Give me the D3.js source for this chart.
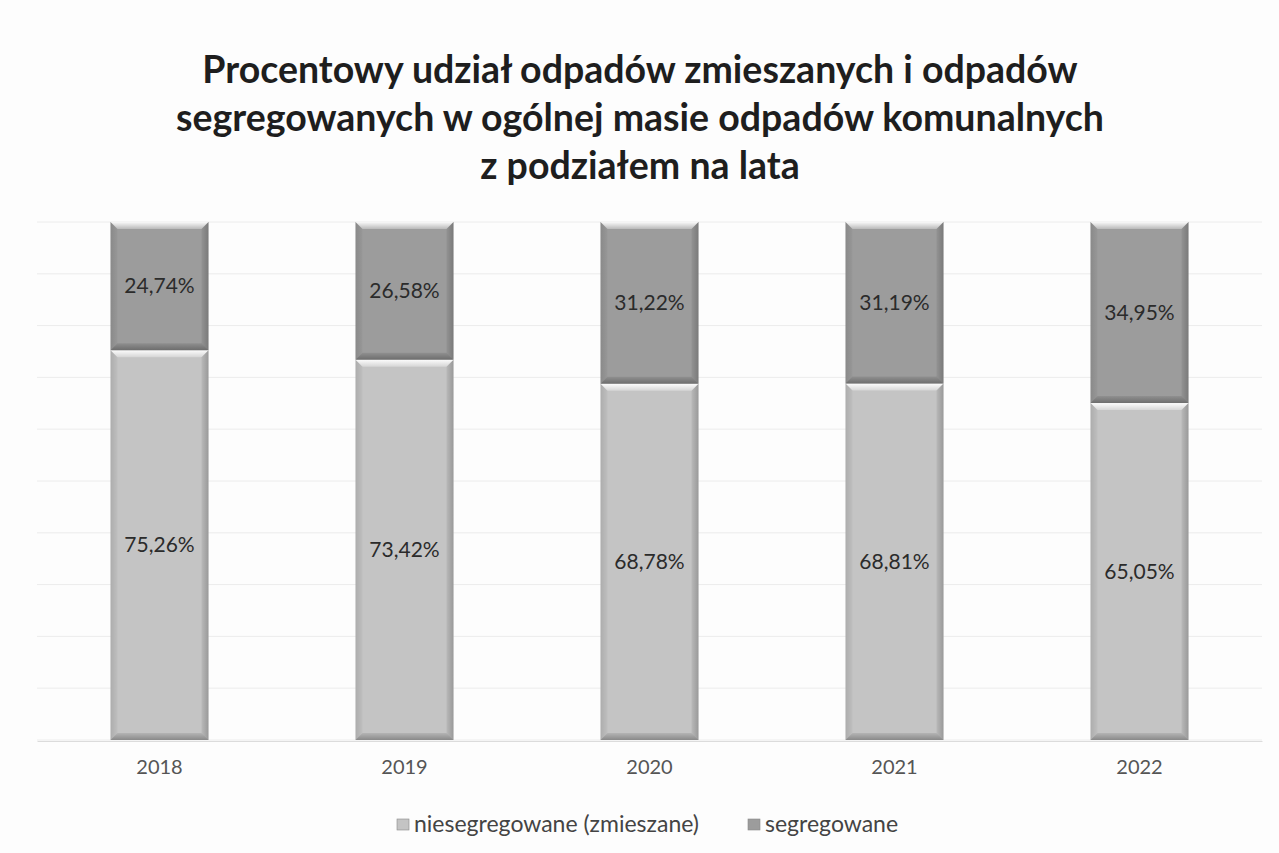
<!DOCTYPE html>
<html>
<head>
<meta charset="utf-8">
<script src="https://cdn.jsdelivr.net/npm/d3@7"></script>
<style>
  body { margin: 0; background: #fdfdfd; }
  svg { display: block; }
</style>
</head>
<body>
<svg id="chart" width="1279" height="853"></svg>
<script>
// data
const years = ['2018', '2019', '2020', '2021', '2022'];
const mixed = [75.26, 73.42, 68.78, 68.81, 65.05];      // niesegregowane (zmieszane)
const sorted = [24.74, 26.58, 31.22, 31.19, 34.95];     // segregowane
const seriesNames = ['niesegregowane (zmieszane)', 'segregowane'];
const gridTicks = [0, 10, 20, 30, 40, 50, 60, 70, 80, 90, 100];
const titleLines = [
  'Procentowy udział odpadów zmieszanych i odpadów',
  'segregowanych w ogólnej masie odpadów komunalnych',
  'z podziałem na lata'
];

const svg = d3.select('#chart');
const W = 1279;
const colors = ['#c4c4c4', '#9c9c9c'];
const font = 'Lato, "Open Sans", sans-serif';

var margin = {left: 37, right: 17, top: 222, bottom: 113};
var x = d3.scaleBand().domain(years).range([margin.left, W - margin.right]).paddingInner(0.6).paddingOuter(0.3);
var y = d3.scaleLinear().domain([0, 100]).range([740, 222]);

// title
svg.append('g').selectAll('text')
  .data(titleLines)
  .enter().append('text')
    .attr('x', 640)
    .attr('y', (d, i) => 83 + i * 48)
    .attr('text-anchor', 'middle')
    .style('font-family', font)
    .style('font-weight', 700)
    .style('font-size', '37.5px')
    .style('fill', '#1e1e1e')
    .text(d => d);

// faint grid
svg.append('g').selectAll('line')
  .data(gridTicks)
  .enter().append('line')
    .attr('x1', margin.left).attr('x2', W - margin.right)
    .attr('y1', d => y(d)).attr('y2', d => y(d))
    .style('stroke', '#ececec')
    .style('stroke-width', 1);

// stack
var rows = years.map((yr, i) => ({year: yr, mixed: mixed[i], sorted: sorted[i]}));
var stack = d3.stack().keys(['mixed', 'sorted'])(rows);

var defs = svg.append('defs');
function grad(id, x1, y1, x2, y2, stops) {
  var g = defs.append('linearGradient').attr('id', id)
    .attr('x1', x1).attr('y1', y1).attr('x2', x2).attr('y2', y2);
  stops.forEach(s => g.append('stop').attr('offset', s[0]).attr('stop-color', s[1]).attr('stop-opacity', s[2]));
}
grad('bevTop', 0, 0, 0, 1, [[0, '#ffffff', 0.95], [1, '#ffffff', 0.3]]);
grad('bevBot', 0, 1, 0, 0, [[0, '#000000', 0.3], [1, '#000000', 0.08]]);
grad('bevLeft', 0, 0, 1, 0, [[0, '#000000', 0.12], [1, '#000000', 0.03]]);
grad('bevRight', 1, 0, 0, 0, [[0, '#000000', 0.22], [1, '#000000', 0.06]]);

var bev = 7;
stack.forEach((layer, li) => {
  var g = svg.append('g');
  layer.forEach((d, i) => {
    var x0 = x(years[i]), w = x.bandwidth();
    var y0 = y(d[1]), h = y(d[0]) - y(d[1]);
    g.append('rect').attr('x', x0).attr('y', y0).attr('width', w).attr('height', h)
      .style('fill', colors[li]);
    // bevel faces
    g.append('polygon')
      .attr('points', [[x0, y0], [x0 + w, y0], [x0 + w - bev, y0 + bev], [x0 + bev, y0 + bev]].join(' '))
      .style('fill', 'url(#bevTop)');
    g.append('polygon')
      .attr('points', [[x0, y0 + h], [x0 + w, y0 + h], [x0 + w - bev, y0 + h - bev], [x0 + bev, y0 + h - bev]].join(' '))
      .style('fill', 'url(#bevBot)');
    g.append('polygon')
      .attr('points', [[x0, y0], [x0 + bev, y0 + bev], [x0 + bev, y0 + h - bev], [x0, y0 + h]].join(' '))
      .style('fill', 'url(#bevLeft)');
    g.append('polygon')
      .attr('points', [[x0 + w, y0], [x0 + w - bev, y0 + bev], [x0 + w - bev, y0 + h - bev], [x0 + w, y0 + h]].join(' '))
      .style('fill', 'url(#bevRight)');
    // label
    var val = li === 0 ? mixed[i] : sorted[i];
    g.append('text')
      .attr('x', x0 + w / 2)
      .attr('y', y0 + h / 2 + 7)
      .attr('text-anchor', 'middle')
      .style('font-family', font)
      .style('font-size', '21px')
      .style('fill', '#2b2b2b')
      .text(val.toFixed(2).replace('.', ',') + '%');
  });
});

// x axis labels
var xAxis = svg.append('g')
  .attr('transform', 'translate(0,741)')
  .call(d3.axisBottom(x).tickSize(0).tickPadding(19));
xAxis.select('.domain').style('stroke', '#dcdcdc');
xAxis.selectAll('text')
  .style('font-family', font)
  .style('font-size', '20px')
  .style('fill', '#555');

// legend
var legend = svg.append('g').attr('transform', 'translate(0,832)');
var lx = [397, 748];
seriesNames.forEach((name, i) => {
  legend.append('rect').attr('x', lx[i]).attr('y', -13).attr('width', 12).attr('height', 11)
    .style('fill', colors[i]).style('stroke', '#8a8a8a').style('stroke-width', 0.6);
  legend.append('text').attr('x', lx[i] + 17).attr('y', 0)
    .style('font-family', font).style('font-size', '23px').style('fill', '#444')
    .text(name);
});
</script>
</body>
</html>
